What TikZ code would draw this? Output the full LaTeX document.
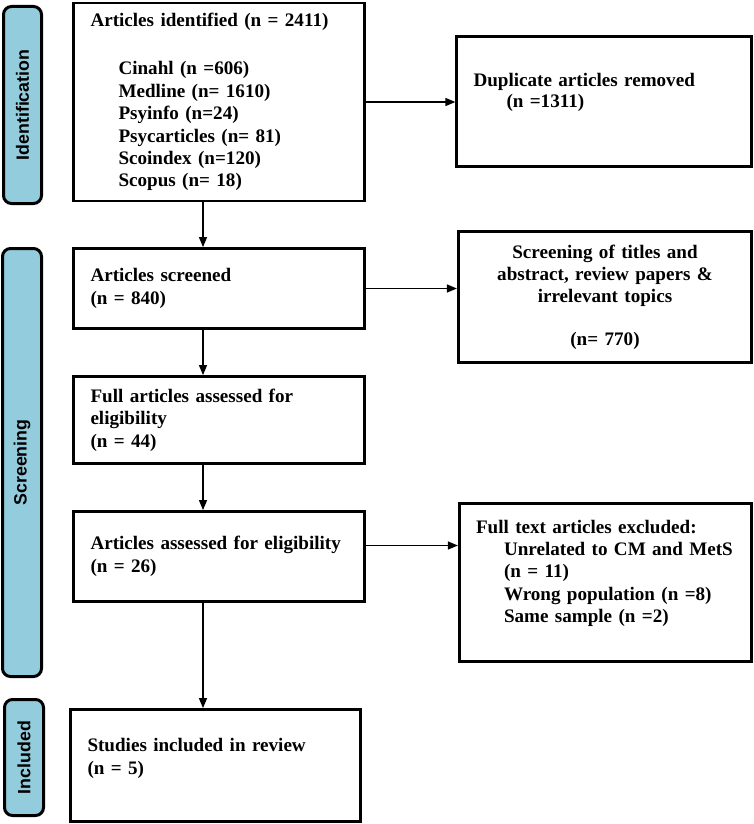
\documentclass[tikz,border=0pt]{standalone}
\usepackage{fontspec}
\setmainfont{Liberation Serif}
\newfontfamily\phasefont{Liberation Sans}
\usetikzlibrary{arrows.meta}
\definecolor{phaseblue}{RGB}{147,205,221}

\begin{document}
\begin{tikzpicture}[x=1pt,y=-1pt,thick,
  stage box/.style={draw,rectangle,line width=2.8pt,inner xsep=16.7pt,inner ysep=0pt,text width=257pt,align=left,font=\bfseries\fontsize{19.1}{22.4}\selectfont},
  phase bar/.style={draw,rectangle,line width=3pt,rounded corners=8pt,fill=phaseblue,rotate=90,inner sep=0pt,font=\phasefont\bfseries\fontsize{17.8}{20}\selectfont}]
\tikzstyle{flow arrow} = [draw,line width=1.3pt,-{Triangle[length=10pt,width=8pt]}]

\useasboundingbox (0,0) rectangle (754,824);

% Phases
\node[phase bar,minimum width=197pt,minimum height=38pt] (identbar) at (22.5,105) {Identification};
\node[phase bar,minimum width=428pt,minimum height=39pt] (screenbar) at (22,462.5) {Screening};
\node[phase bar,minimum width=116pt,minimum height=39pt] (inclbar) at (24,757.5) {Included};

% Left column
\node[stage box,minimum height=198pt] (identified) at (219,102) {Articles identified (n = 2411)\\[26pt]
  \hspace*{28pt}Cinahl (n =606)\\
  \hspace*{28pt}Medline (n= 1610)\\
  \hspace*{28pt}Psyinfo (n=24)\\
  \hspace*{28pt}Psycarticles (n= 81)\\
  \hspace*{28pt}Scoindex (n=120)\\
  \hspace*{28pt}Scopus (n= 18)};
\node[stage box,minimum height=80pt] (screened) at (219,288.5) {Articles screened\\(n = 840)};
\node[stage box,minimum height=87pt] (fulltext) at (219,420) {Full articles assessed for\\eligibility\\(n = 44)};
\node[stage box,minimum height=90pt] (assessed) at (219,556.5) {\mbox{Articles assessed for eligibility}\\(n = 26)};
\node[stage box,text width=256pt,minimum height=112pt] (included) at (215.5,765.5) {Studies included in review\\(n = 5)\\[-4pt] \mbox{}};

% Right column
\node[stage box,text width=261pt,minimum height=130pt] (duplicates) at (604,101.5) {Duplicate articles removed\\[-2pt]
  \hspace*{33pt}(n =1311)\\ \mbox{}};
\node[stage box,text width=260pt,align=center,minimum height=131pt] (titles) at (605,297) {Screening of titles and\\abstract, review papers \&\\irrelevant topics\\[20pt](n= 770)};
\node[stage box,text width=259pt,minimum height=158pt] (excluded) at (605.5,582.5) {Full text articles excluded:\\
  \hspace*{28pt}\mbox{Unrelated to CM and MetS}\\
  \hspace*{28pt}(n = 11)\\
  \hspace*{28pt}Wrong population (n =8)\\
  \hspace*{28pt}Same sample (n =2)\\ \mbox{}};

% Arrows
\coordinate (spine) at (203,0);
\draw[flow arrow] (identified.south -| spine) -- (screened.north -| spine);
\draw[flow arrow] (screened.south -| spine) -- (fulltext.north -| spine);
\draw[flow arrow] (fulltext.south -| spine) -- (assessed.north -| spine);
\draw[flow arrow] (assessed.south -| spine) -- (included.north -| spine);

\draw[flow arrow] (identified.east) -- (identified.east -| duplicates.west);
\draw[flow arrow] (screened.east) -- (screened.east -| titles.west);
\coordinate (assessedout) at ([yshift=11pt]assessed.east);
\draw[flow arrow] (assessedout) -- (assessedout -| excluded.west);

\end{tikzpicture}
\end{document}
